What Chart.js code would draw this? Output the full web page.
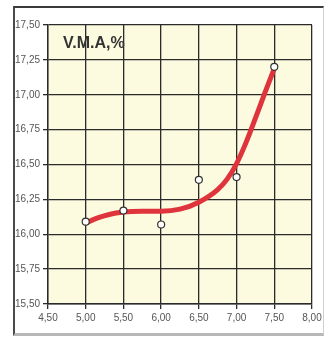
<!DOCTYPE html>
<html>
<head>
<meta charset="utf-8">
<script src="https://cdn.jsdelivr.net/npm/chart.js@4.4.1/dist/chart.umd.min.js"></script>
<style>
  html, body { margin: 0; padding: 0; background: #ffffff; }
  #wrap { position: relative; width: 329px; height: 338px; overflow: hidden; }
  #frame {
    position: absolute; left: 13px; top: 6px; width: 308px; height: 325px;
    border-left: 2px solid #4a4a4a; border-top: 2px solid #3a3a3a;
    border-right: 1px solid #d0d0d0; border-bottom: 3px solid #b8b8b8;
  }
  canvas { position: absolute; left: 0; top: 0; }
</style>
</head>
<body>
<div id="wrap">
  <div id="frame"></div>
  <canvas id="c" width="329" height="338"></canvas>
</div>
<script>
// Measured samples: asphalt content (%) vs voids in mineral aggregate
const sampleX = [5.0, 5.5, 6.0, 6.5, 7.0, 7.5];
const sampleVMA = [16.09, 16.17, 16.07, 16.39, 16.41, 17.20];

// Smoothed trend curve through the samples
const trendX = [5.0, 5.1, 5.2, 5.3, 5.4, 5.5, 5.75, 6.0, 6.25, 6.5, 6.75, 6.875, 7.0, 7.125, 7.25, 7.375, 7.5];
const trendVMA = [16.08, 16.105, 16.125, 16.14, 16.152, 16.16, 16.165, 16.165, 16.18, 16.23, 16.32, 16.395, 16.507, 16.657, 16.832, 17.013, 17.188];

// Axis ranges and ticks
const xTicks = [4.5, 5.0, 5.5, 6.0, 6.5, 7.0, 7.5, 8.0];
const yTicks = [15.5, 15.75, 16.0, 16.25, 16.5, 16.75, 17.0, 17.25, 17.5];
const chartLabel = 'V.M.A,%';

const fmt = v => Number(v).toFixed(2).replace('.', ',');

const plotBackground = {
  id: 'plotBackground',
  beforeDraw(chart) {
    const { ctx, chartArea: a } = chart;
    ctx.save();
    ctx.fillStyle = '#fcfadf';
    ctx.fillRect(a.left, a.top, a.right - a.left, a.bottom - a.top);
    ctx.restore();
  }
};

const innerLabel = {
  id: 'innerLabel',
  afterDatasetsDraw(chart) {
    const { ctx, chartArea: a } = chart;
    ctx.save();
    ctx.font = 'bold 16px "Liberation Sans", Arial, sans-serif';
    ctx.fillStyle = '#333333';
    ctx.textBaseline = 'alphabetic';
    ctx.fillText(chartLabel, a.left + 15, a.top + 23);
    ctx.restore();
  }
};

new Chart(document.getElementById('c'), {
  type: 'scatter',
  data: {
    datasets: [
      {
        label: 'trend',
        data: trendX.map((x, i) => ({ x, y: trendVMA[i] })),
        showLine: true,
        borderColor: '#e0343c',
        borderWidth: 5,
        borderCapStyle: 'round',
        cubicInterpolationMode: 'monotone',
        pointRadius: 0,
        pointHoverRadius: 0,
        order: 2
      },
      {
        label: 'samples',
        data: sampleX.map((x, i) => ({ x, y: sampleVMA[i] })),
        showLine: false,
        pointRadius: 3.5,
        pointBackgroundColor: '#ffffff',
        pointBorderColor: '#333333',
        pointBorderWidth: 1.2,
        order: 1
      }
    ]
  },
  options: {
    responsive: false,
    animation: false,
    events: [],
    layout: { padding: { left: 0, right: 17, top: 25, bottom: 0 } },
    plugins: {
      legend: { display: false },
      tooltip: { enabled: false },
      title: { display: false }
    },
    scales: {
      x: {
        type: 'linear',
        min: 4.5, max: 8.0,
        afterBuildTicks: s => { s.ticks = xTicks.map(v => ({ value: v })); },
        afterFit: s => { s.height = 34; },
        border: { color: '#2b2b2b', width: 1.4 },
        grid: { color: '#2b2b2b', lineWidth: 1.3, tickLength: 5, drawTicks: true },
        ticks: {
          callback: v => fmt(v),
          color: '#555555',
          padding: 3,
          maxRotation: 0,
          font: { family: '"Liberation Sans", Arial, sans-serif', size: 10 }
        }
      },
      y: {
        type: 'linear',
        min: 15.5, max: 17.5,
        afterBuildTicks: s => { s.ticks = yTicks.map(v => ({ value: v })); },
        afterFit: s => { s.width = 48; },
        border: { color: '#2b2b2b', width: 1.4 },
        grid: { color: '#2b2b2b', lineWidth: 1.3, tickLength: 5, drawTicks: true },
        ticks: {
          callback: v => fmt(v),
          color: '#555555',
          padding: 3,
          font: { family: '"Liberation Sans", Arial, sans-serif', size: 10 }
        }
      }
    }
  },
  plugins: [plotBackground, innerLabel]
});
</script>
</body>
</html>
